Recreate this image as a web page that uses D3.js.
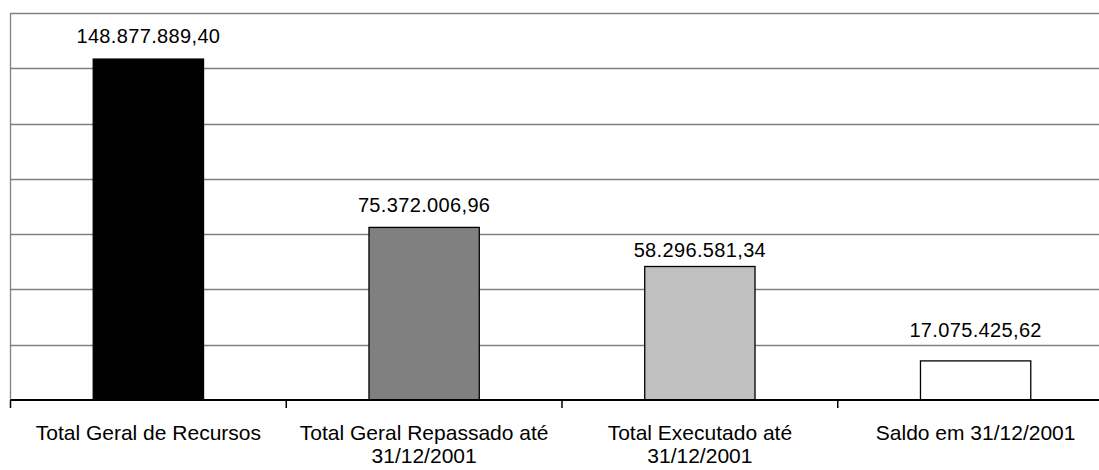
<!DOCTYPE html>
<html>
<head>
<meta charset="utf-8">
<script src="https://cdn.jsdelivr.net/npm/d3@7"></script>
<style>
  html, body { margin: 0; padding: 0; background: #fff; }
  svg { display: block; }
  text { font-family: "Liberation Sans", Arial, sans-serif; fill: #000; }
</style>
</head>
<body>
<svg id="chart" width="1099" height="470"></svg>
<script>
// Recursos do programa (R$)
const categories = [
  "Total Geral de Recursos",
  "Total Geral Repassado até 31/12/2001",
  "Total Executado até 31/12/2001",
  "Saldo em 31/12/2001"
];
const values = [148877889.40, 75372006.96, 58296581.34, 17075425.62];
const barColors = ["#000000", "#808080", "#C0C0C0", "#FFFFFF"];

// Value axis: unlabeled, 7 equal gridline intervals
const yMax = 169000000;
const gridIntervals = 7;

// distance (px) between each bar top and its value label baseline
const labelGap = [16, 15, 10, 23.5];

const plot = { left: 10.5, top: 13, bottom: 400, right: 10.5 + 4 * 275.75 };

const svg = d3.select("#chart");

const x = d3.scaleBand().domain(categories).range([plot.left, plot.right]).padding(0);
const y = d3.scaleLinear().domain([0, yMax]).range([plot.bottom, plot.top]);

const br = d3.formatLocale({ decimal: ",", thousands: ".", grouping: [3], currency: ["R$ ", ""] });
const fmt = br.format(",.2f");

// gridlines
const gridVals = d3.range(1, gridIntervals + 1).map(i => i * yMax / gridIntervals);
svg.append("g").selectAll("line").data(gridVals).join("line")
  .attr("x1", plot.left).attr("x2", plot.right)
  .attr("y1", d => Math.round(y(d)) + 0.5).attr("y2", d => Math.round(y(d)) + 0.5)
  .attr("stroke", "#808080").attr("stroke-width", 1.3);

// left border of plot area
svg.append("line")
  .attr("x1", plot.left).attr("x2", plot.left)
  .attr("y1", y(yMax)).attr("y2", plot.bottom)
  .attr("stroke", "#808080").attr("stroke-width", 1.3);

// bars
const barW = x.bandwidth() * 0.4;
svg.append("g").selectAll("rect").data(values).join("rect")
  .attr("x", (d, i) => x(categories[i]) + (x.bandwidth() - barW) / 2)
  .attr("y", d => y(d))
  .attr("width", barW)
  .attr("height", d => y(0) - y(d))
  .attr("fill", (d, i) => barColors[i])
  .attr("stroke", "#000").attr("stroke-width", 1.3);

// value labels
svg.append("g").selectAll("text").data(values).join("text")
  .attr("x", (d, i) => x(categories[i]) + x.bandwidth() / 2)
  .attr("y", (d, i) => y(d) - labelGap[i])
  .attr("text-anchor", "middle")
  .attr("font-size", 20)
  .attr("letter-spacing", 0.35)
  .text(d => fmt(d));

// category axis line
const xAxis = d3.axisBottom(x).tickSize(0).tickFormat("");
const gx = svg.append("g").attr("transform", `translate(0,${plot.bottom})`).call(xAxis);
gx.select(".domain").attr("stroke", "#000").attr("stroke-width", 2)
  .attr("d", `M${plot.left},0H${plot.right}`);
gx.selectAll(".tick").remove();
// tick marks between categories
const bounds = categories.map(c => x(c));
gx.selectAll("line.sep").data(bounds).join("line")
  .attr("class", "sep")
  .attr("x1", d => d).attr("x2", d => d)
  .attr("y1", 0).attr("y2", 8)
  .attr("stroke", "#000").attr("stroke-width", 1.5);

// category labels, wrapped to band width
const labels = svg.append("g").selectAll("text").data(categories).join("text")
  .attr("text-anchor", "middle")
  .attr("font-size", 21)
  .attr("x", d => x(d) + x.bandwidth() / 2)
  .attr("y", 440);

labels.each(function(d) {
  const t = d3.select(this);
  const words = d.split(" ");
  const maxW = x.bandwidth() - 8;
  let line = [];
  let tspan = t.append("tspan").attr("x", t.attr("x")).attr("dy", 0);
  for (const w of words) {
    line.push(w);
    tspan.text(line.join(" "));
    if (tspan.node().getComputedTextLength() > maxW && line.length > 1) {
      line.pop();
      tspan.text(line.join(" "));
      line = [w];
      tspan = t.append("tspan").attr("x", t.attr("x")).attr("dy", 22.5).text(w);
    }
  }
});
</script>
</body>
</html>
